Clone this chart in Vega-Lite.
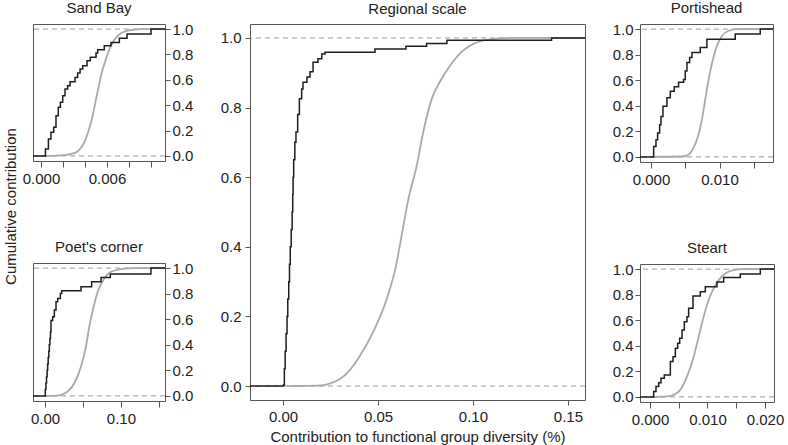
{
  "$schema": "https://vega.github.io/schema/vega-lite/v6.json",
  "padding": {"left": 3, "top": 0, "right": 0, "bottom": 0},
  "config": {
    "font": "Liberation Sans",
    "view": {"stroke": "#555", "strokeWidth": 1},
    "axis": {"grid": false, "domain": false, "ticks": true, "tickColor": "#555", "tickSize": 6, "tickCount": 30, "labelFontSize": 15, "labelColor": "#222", "labelFont": "Liberation Sans", "titleFontSize": 15, "titleFontWeight": "normal", "titleColor": "#222", "titleFont": "Liberation Sans", "labelOverlap": false, "labelFlush": false, "labelPadding": 3},
    "title": {"fontSize": 15, "fontWeight": "normal", "color": "#222", "font": "Liberation Sans", "offset": 9, "baseline": "alphabetic"}
  },
  "data": {"values": [
    {"p":"Sand Bay","s":"obs","x":-0.00073,"y":0},{"p":"Sand Bay","s":"obs","x":0.0004,"y":0.055},{"p":"Sand Bay","s":"obs","x":0.00067,"y":0.134},{"p":"Sand Bay","s":"obs","x":0.0009,"y":0.187},{"p":"Sand Bay","s":"obs","x":0.00115,"y":0.226},{"p":"Sand Bay","s":"obs","x":0.00136,"y":0.317},{"p":"Sand Bay","s":"obs","x":0.00157,"y":0.383},{"p":"Sand Bay","s":"obs","x":0.00176,"y":0.423},{"p":"Sand Bay","s":"obs","x":0.00197,"y":0.475},{"p":"Sand Bay","s":"obs","x":0.00218,"y":0.528},{"p":"Sand Bay","s":"obs","x":0.00242,"y":0.554},{"p":"Sand Bay","s":"obs","x":0.00264,"y":0.585},{"p":"Sand Bay","s":"obs","x":0.00309,"y":0.619},{"p":"Sand Bay","s":"obs","x":0.00333,"y":0.654},{"p":"Sand Bay","s":"obs","x":0.00355,"y":0.685},{"p":"Sand Bay","s":"obs","x":0.00379,"y":0.711},{"p":"Sand Bay","s":"obs","x":0.00418,"y":0.751},{"p":"Sand Bay","s":"obs","x":0.00448,"y":0.777},{"p":"Sand Bay","s":"obs","x":0.005,"y":0.811},{"p":"Sand Bay","s":"obs","x":0.00515,"y":0.837},{"p":"Sand Bay","s":"obs","x":0.00575,"y":0.869},{"p":"Sand Bay","s":"obs","x":0.00636,"y":0.895},{"p":"Sand Bay","s":"obs","x":0.00712,"y":0.927},{"p":"Sand Bay","s":"obs","x":0.00782,"y":0.961},{"p":"Sand Bay","s":"obs","x":0.01,"y":1.0},{"p":"Sand Bay","s":"obs","x":0.01145,"y":1.0},
    {"p":"Sand Bay","s":"exp","x":0,"y":0},{"p":"Sand Bay","s":"exp","x":0.0015,"y":0.002},{"p":"Sand Bay","s":"exp","x":0.0021,"y":0.006},{"p":"Sand Bay","s":"exp","x":0.0027,"y":0.015},{"p":"Sand Bay","s":"exp","x":0.0032,"y":0.029},{"p":"Sand Bay","s":"exp","x":0.0036,"y":0.06},{"p":"Sand Bay","s":"exp","x":0.00394,"y":0.108},{"p":"Sand Bay","s":"exp","x":0.00425,"y":0.18},{"p":"Sand Bay","s":"exp","x":0.00455,"y":0.265},{"p":"Sand Bay","s":"exp","x":0.0048,"y":0.36},{"p":"Sand Bay","s":"exp","x":0.005,"y":0.449},{"p":"Sand Bay","s":"exp","x":0.00523,"y":0.54},{"p":"Sand Bay","s":"exp","x":0.00545,"y":0.632},{"p":"Sand Bay","s":"exp","x":0.0059,"y":0.764},{"p":"Sand Bay","s":"exp","x":0.00636,"y":0.869},{"p":"Sand Bay","s":"exp","x":0.00697,"y":0.947},{"p":"Sand Bay","s":"exp","x":0.00788,"y":0.987},{"p":"Sand Bay","s":"exp","x":0.00909,"y":1.0},{"p":"Sand Bay","s":"exp","x":0.01145,"y":1.0},
    {"p":"Poet's corner","s":"obs","x":-0.0158,"y":0},{"p":"Poet's corner","s":"obs","x":0.0004,"y":0.05},{"p":"Poet's corner","s":"obs","x":0.0012,"y":0.1},{"p":"Poet's corner","s":"obs","x":0.002,"y":0.15},{"p":"Poet's corner","s":"obs","x":0.0028,"y":0.2},{"p":"Poet's corner","s":"obs","x":0.0035,"y":0.25},{"p":"Poet's corner","s":"obs","x":0.0042,"y":0.3},{"p":"Poet's corner","s":"obs","x":0.005,"y":0.35},{"p":"Poet's corner","s":"obs","x":0.0057,"y":0.4},{"p":"Poet's corner","s":"obs","x":0.0065,"y":0.45},{"p":"Poet's corner","s":"obs","x":0.0072,"y":0.5},{"p":"Poet's corner","s":"obs","x":0.0079,"y":0.59},{"p":"Poet's corner","s":"obs","x":0.0101,"y":0.62},{"p":"Poet's corner","s":"obs","x":0.0123,"y":0.672},{"p":"Poet's corner","s":"obs","x":0.0145,"y":0.737},{"p":"Poet's corner","s":"obs","x":0.0167,"y":0.763},{"p":"Poet's corner","s":"obs","x":0.0202,"y":0.802},{"p":"Poet's corner","s":"obs","x":0.0219,"y":0.823},{"p":"Poet's corner","s":"obs","x":0.0474,"y":0.854},{"p":"Poet's corner","s":"obs","x":0.0614,"y":0.893},{"p":"Poet's corner","s":"obs","x":0.0737,"y":0.927},{"p":"Poet's corner","s":"obs","x":0.086,"y":0.953},{"p":"Poet's corner","s":"obs","x":0.1395,"y":1.0},{"p":"Poet's corner","s":"obs","x":0.158,"y":1.0},
    {"p":"Poet's corner","s":"exp","x":0,"y":0},{"p":"Poet's corner","s":"exp","x":0.015,"y":0.002},{"p":"Poet's corner","s":"exp","x":0.022,"y":0.01},{"p":"Poet's corner","s":"exp","x":0.0298,"y":0.034},{"p":"Poet's corner","s":"exp","x":0.0386,"y":0.099},{"p":"Poet's corner","s":"exp","x":0.0474,"y":0.229},{"p":"Poet's corner","s":"exp","x":0.0539,"y":0.385},{"p":"Poet's corner","s":"exp","x":0.0583,"y":0.542},{"p":"Poet's corner","s":"exp","x":0.064,"y":0.698},{"p":"Poet's corner","s":"exp","x":0.0702,"y":0.828},{"p":"Poet's corner","s":"exp","x":0.078,"y":0.919},{"p":"Poet's corner","s":"exp","x":0.0868,"y":0.971},{"p":"Poet's corner","s":"exp","x":0.1,"y":0.992},{"p":"Poet's corner","s":"exp","x":0.117,"y":1.0},{"p":"Poet's corner","s":"exp","x":0.158,"y":1.0},
    {"p":"Portishead","s":"obs","x":-0.0016,"y":0},{"p":"Portishead","s":"obs","x":0.00039,"y":0.081},{"p":"Portishead","s":"obs","x":0.00073,"y":0.134},{"p":"Portishead","s":"obs","x":0.00097,"y":0.186},{"p":"Portishead","s":"obs","x":0.00126,"y":0.252},{"p":"Portishead","s":"obs","x":0.00146,"y":0.317},{"p":"Portishead","s":"obs","x":0.00175,"y":0.396},{"p":"Portishead","s":"obs","x":0.00233,"y":0.462},{"p":"Portishead","s":"obs","x":0.00282,"y":0.514},{"p":"Portishead","s":"obs","x":0.0034,"y":0.549},{"p":"Portishead","s":"obs","x":0.00403,"y":0.585},{"p":"Portishead","s":"obs","x":0.00476,"y":0.606},{"p":"Portishead","s":"obs","x":0.005,"y":0.672},{"p":"Portishead","s":"obs","x":0.00525,"y":0.738},{"p":"Portishead","s":"obs","x":0.00564,"y":0.777},{"p":"Portishead","s":"obs","x":0.00598,"y":0.816},{"p":"Portishead","s":"obs","x":0.00719,"y":0.856},{"p":"Portishead","s":"obs","x":0.00816,"y":0.921},{"p":"Portishead","s":"obs","x":0.01229,"y":0.961},{"p":"Portishead","s":"obs","x":0.01594,"y":1.0},{"p":"Portishead","s":"obs","x":0.0178,"y":1.0},
    {"p":"Portishead","s":"exp","x":0,"y":0},{"p":"Portishead","s":"exp","x":0.0045,"y":0.003},{"p":"Portishead","s":"exp","x":0.0052,"y":0.01},{"p":"Portishead","s":"exp","x":0.00573,"y":0.029},{"p":"Portishead","s":"exp","x":0.0062,"y":0.07},{"p":"Portishead","s":"exp","x":0.0067,"y":0.134},{"p":"Portishead","s":"exp","x":0.00743,"y":0.291},{"p":"Portishead","s":"exp","x":0.00792,"y":0.449},{"p":"Portishead","s":"exp","x":0.00841,"y":0.606},{"p":"Portishead","s":"exp","x":0.00904,"y":0.764},{"p":"Portishead","s":"exp","x":0.00962,"y":0.869},{"p":"Portishead","s":"exp","x":0.01035,"y":0.947},{"p":"Portishead","s":"exp","x":0.01133,"y":0.987},{"p":"Portishead","s":"exp","x":0.01254,"y":1.0},{"p":"Portishead","s":"exp","x":0.0178,"y":1.0},
    {"p":"Steart","s":"obs","x":-0.00174,"y":0},{"p":"Steart","s":"obs","x":0.00064,"y":0.042},{"p":"Steart","s":"obs","x":0.00104,"y":0.081},{"p":"Steart","s":"obs","x":0.00151,"y":0.11},{"p":"Steart","s":"obs","x":0.00191,"y":0.146},{"p":"Steart","s":"obs","x":0.00249,"y":0.172},{"p":"Steart","s":"obs","x":0.00354,"y":0.276},{"p":"Steart","s":"obs","x":0.004,"y":0.315},{"p":"Steart","s":"obs","x":0.00441,"y":0.38},{"p":"Steart","s":"obs","x":0.00481,"y":0.419},{"p":"Steart","s":"obs","x":0.00516,"y":0.458},{"p":"Steart","s":"obs","x":0.00557,"y":0.523},{"p":"Steart","s":"obs","x":0.00597,"y":0.588},{"p":"Steart","s":"obs","x":0.00643,"y":0.627},{"p":"Steart","s":"obs","x":0.00672,"y":0.693},{"p":"Steart","s":"obs","x":0.00748,"y":0.789},{"p":"Steart","s":"obs","x":0.00875,"y":0.823},{"p":"Steart","s":"obs","x":0.00962,"y":0.862},{"p":"Steart","s":"obs","x":0.01165,"y":0.9},{"p":"Steart","s":"obs","x":0.01281,"y":0.935},{"p":"Steart","s":"obs","x":0.01571,"y":0.961},{"p":"Steart","s":"obs","x":0.01919,"y":1.0},{"p":"Steart","s":"obs","x":0.02157,"y":1.0},
    {"p":"Steart","s":"exp","x":0,"y":0},{"p":"Steart","s":"exp","x":0.003,"y":0.004},{"p":"Steart","s":"exp","x":0.00412,"y":0.016},{"p":"Steart","s":"exp","x":0.00528,"y":0.055},{"p":"Steart","s":"exp","x":0.00643,"y":0.159},{"p":"Steart","s":"exp","x":0.0076,"y":0.315},{"p":"Steart","s":"exp","x":0.00846,"y":0.471},{"p":"Steart","s":"exp","x":0.00933,"y":0.627},{"p":"Steart","s":"exp","x":0.0102,"y":0.758},{"p":"Steart","s":"exp","x":0.01107,"y":0.849},{"p":"Steart","s":"exp","x":0.01194,"y":0.914},{"p":"Steart","s":"exp","x":0.0131,"y":0.966},{"p":"Steart","s":"exp","x":0.01455,"y":0.992},{"p":"Steart","s":"exp","x":0.01629,"y":1.0},{"p":"Steart","s":"exp","x":0.02157,"y":1.0},
    {"p":"Regional scale","s":"obs","x":-0.0174,"y":0},{"p":"Regional scale","s":"obs","x":0.0002,"y":0.003},{"p":"Regional scale","s":"obs","x":0.0007,"y":0.05},{"p":"Regional scale","s":"obs","x":0.0011,"y":0.1},{"p":"Regional scale","s":"obs","x":0.0016,"y":0.15},{"p":"Regional scale","s":"obs","x":0.0021,"y":0.2},{"p":"Regional scale","s":"obs","x":0.0025,"y":0.25},{"p":"Regional scale","s":"obs","x":0.003,"y":0.3},{"p":"Regional scale","s":"obs","x":0.0034,"y":0.35},{"p":"Regional scale","s":"obs","x":0.0038,"y":0.4},{"p":"Regional scale","s":"obs","x":0.0043,"y":0.45},{"p":"Regional scale","s":"obs","x":0.0048,"y":0.5},{"p":"Regional scale","s":"obs","x":0.0051,"y":0.55},{"p":"Regional scale","s":"obs","x":0.0053,"y":0.6},{"p":"Regional scale","s":"obs","x":0.0056,"y":0.65},{"p":"Regional scale","s":"obs","x":0.0062,"y":0.7},{"p":"Regional scale","s":"obs","x":0.0068,"y":0.73},{"p":"Regional scale","s":"obs","x":0.0077,"y":0.78},{"p":"Regional scale","s":"obs","x":0.0086,"y":0.825},{"p":"Regional scale","s":"obs","x":0.0098,"y":0.853},{"p":"Regional scale","s":"obs","x":0.0105,"y":0.873},{"p":"Regional scale","s":"obs","x":0.0126,"y":0.888},{"p":"Regional scale","s":"obs","x":0.0142,"y":0.903},{"p":"Regional scale","s":"obs","x":0.0158,"y":0.93},{"p":"Regional scale","s":"obs","x":0.0184,"y":0.94},{"p":"Regional scale","s":"obs","x":0.0204,"y":0.954},{"p":"Regional scale","s":"obs","x":0.0221,"y":0.959},{"p":"Regional scale","s":"obs","x":0.0484,"y":0.968},{"p":"Regional scale","s":"obs","x":0.0647,"y":0.976},{"p":"Regional scale","s":"obs","x":0.0756,"y":0.984},{"p":"Regional scale","s":"obs","x":0.0863,"y":0.993},{"p":"Regional scale","s":"obs","x":0.1414,"y":1.0},{"p":"Regional scale","s":"obs","x":0.159,"y":1.0},
    {"p":"Regional scale","s":"exp","x":0.002,"y":0},{"p":"Regional scale","s":"exp","x":0.01,"y":0.0005},{"p":"Regional scale","s":"exp","x":0.02,"y":0.002},{"p":"Regional scale","s":"exp","x":0.025,"y":0.008},{"p":"Regional scale","s":"exp","x":0.03,"y":0.02},{"p":"Regional scale","s":"exp","x":0.035,"y":0.045},{"p":"Regional scale","s":"exp","x":0.0405,"y":0.087},{"p":"Regional scale","s":"exp","x":0.0474,"y":0.155},{"p":"Regional scale","s":"exp","x":0.0546,"y":0.25},{"p":"Regional scale","s":"exp","x":0.0595,"y":0.346},{"p":"Regional scale","s":"exp","x":0.0628,"y":0.443},{"p":"Regional scale","s":"exp","x":0.066,"y":0.537},{"p":"Regional scale","s":"exp","x":0.0704,"y":0.633},{"p":"Regional scale","s":"exp","x":0.0738,"y":0.729},{"p":"Regional scale","s":"exp","x":0.0783,"y":0.825},{"p":"Regional scale","s":"exp","x":0.0826,"y":0.874},{"p":"Regional scale","s":"exp","x":0.0879,"y":0.92},{"p":"Regional scale","s":"exp","x":0.094,"y":0.96},{"p":"Regional scale","s":"exp","x":0.1002,"y":0.983},{"p":"Regional scale","s":"exp","x":0.109,"y":0.996},{"p":"Regional scale","s":"exp","x":0.12,"y":1.0},{"p":"Regional scale","s":"exp","x":0.159,"y":1.0}
  ]},
  "title": {"text": "Cumulative contribution", "orient": "left", "anchor": "middle", "offset": -9, "dx": 16, "baseline": "alphabetic"},
  "spacing": 25,
  "hconcat": [
    {
      "spacing": 52,
      "vconcat": [
        {
          "width": 132, "height": 137, "title": {"text": "Sand Bay", "offset": 6},
          "layer": [
            {"data": {"values": [{"ref": 0}, {"ref": 1}]}, "mark": {"type": "rule", "color": "#9a9a9a", "strokeDash": [5, 4], "strokeWidth": 1},
             "encoding": {"y": {"field": "ref", "type": "quantitative", "scale": {"domain": [-0.04, 1.04], "nice": false, "zero": false}, "axis": {"orient": "right", "values": [0, 0.2, 0.4, 0.6, 0.8, 1], "tickCount": 30, "format": ".1f", "title": null, "tickSize": 5, "labelPadding": 2, "labelOverlap": false}}}},
            {"transform": [{"filter": "datum.p === 'Sand Bay' && datum.s === 'exp'"}], "mark": {"type": "line", "color": "#a9a9a9", "strokeWidth": 1.8, "interpolate": "monotone", "clip": true},
             "encoding": {"x": {"field": "x", "type": "quantitative", "scale": {"domain": [-0.00073, 0.01127], "nice": false, "zero": false}, "axis": {"values": [0, 0.002, 0.004, 0.006, 0.008, 0.01], "tickCount": 30, "labelExpr": "abs(datum.value) < 1e-9 || abs(datum.value - 0.006) < 1e-9 ? format(datum.value, '.3f') : ''", "title": null, "labelPadding": 4, "labelOverlap": false}},
                          "y": {"field": "y", "type": "quantitative", "scale": {"domain": [-0.04, 1.04], "nice": false, "zero": false}}}},
            {"transform": [{"filter": "datum.p === 'Sand Bay' && datum.s === 'obs'"}], "mark": {"type": "line", "color": "#1e1e1e", "strokeWidth": 1.5, "interpolate": "step-after", "clip": true},
             "encoding": {"x": {"field": "x", "type": "quantitative"}, "y": {"field": "y", "type": "quantitative"}}}
          ]
        },
        {
          "width": 132, "height": 138, "title": {"text": "Poet's corner", "offset": 6},
          "layer": [
            {"data": {"values": [{"ref": 0}, {"ref": 1}]}, "mark": {"type": "rule", "color": "#9a9a9a", "strokeDash": [5, 4], "strokeWidth": 1},
             "encoding": {"y": {"field": "ref", "type": "quantitative", "scale": {"domain": [-0.04, 1.04], "nice": false, "zero": false}, "axis": {"orient": "right", "values": [0, 0.2, 0.4, 0.6, 0.8, 1], "tickCount": 30, "format": ".1f", "title": null, "tickSize": 5, "labelPadding": 2, "labelOverlap": false}}}},
            {"transform": [{"filter": "datum.p === \"Poet's corner\" && datum.s === 'exp'"}], "mark": {"type": "line", "color": "#a9a9a9", "strokeWidth": 1.8, "interpolate": "monotone", "clip": true},
             "encoding": {"x": {"field": "x", "type": "quantitative", "scale": {"domain": [-0.0158, 0.158], "nice": false, "zero": false}, "axis": {"values": [0, 0.05, 0.1, 0.15], "tickCount": 30, "labelExpr": "abs(datum.value) < 1e-9 || abs(datum.value - 0.1) < 1e-9 ? format(datum.value, '.2f') : ''", "title": null, "labelPadding": 4, "labelOverlap": false}},
                          "y": {"field": "y", "type": "quantitative", "scale": {"domain": [-0.04, 1.04], "nice": false, "zero": false}}}},
            {"transform": [{"filter": "datum.p === \"Poet's corner\" && datum.s === 'obs'"}], "mark": {"type": "line", "color": "#1e1e1e", "strokeWidth": 1.5, "interpolate": "step-after", "clip": true},
             "encoding": {"x": {"field": "x", "type": "quantitative"}, "y": {"field": "y", "type": "quantitative"}}}
          ]
        }
      ]
    },
    {
      "width": 335, "height": 376, "title": {"text": "Regional scale", "offset": 7},
      "layer": [
        {"data": {"values": [{"ref": 0}, {"ref": 1}]}, "mark": {"type": "rule", "color": "#9a9a9a", "strokeDash": [5, 4], "strokeWidth": 1},
         "encoding": {"y": {"field": "ref", "type": "quantitative", "scale": {"domain": [-0.04, 1.04], "nice": false, "zero": false}, "axis": {"orient": "left", "values": [0, 0.2, 0.4, 0.6, 0.8, 1], "tickCount": 30, "format": ".1f", "title": null, "tickSize": 5, "labelPadding": 4, "labelOverlap": false}}}},
        {"transform": [{"filter": "datum.p === 'Regional scale' && datum.s === 'exp'"}], "mark": {"type": "line", "color": "#a9a9a9", "strokeWidth": 1.8, "interpolate": "monotone", "clip": true},
         "encoding": {"x": {"field": "x", "type": "quantitative", "scale": {"domain": [-0.0174, 0.159], "nice": false, "zero": false}, "axis": {"values": [0, 0.05, 0.1, 0.15], "tickCount": 30, "format": ".2f", "title": "Contribution to functional group diversity (%)", "titlePadding": 5, "labelPadding": 4, "tickSize": 5, "labelOverlap": false}},
                      "y": {"field": "y", "type": "quantitative", "scale": {"domain": [-0.04, 1.04], "nice": false, "zero": false}}}},
        {"transform": [{"filter": "datum.p === 'Regional scale' && datum.s === 'obs'"}], "mark": {"type": "line", "color": "#1e1e1e", "strokeWidth": 1.5, "interpolate": "step-after", "clip": true},
         "encoding": {"x": {"field": "x", "type": "quantitative"}, "y": {"field": "y", "type": "quantitative"}}}
      ]
    },
    {
      "spacing": 52,
      "vconcat": [
        {
          "width": 133, "height": 138, "title": {"text": "Portishead", "offset": 6},
          "layer": [
            {"data": {"values": [{"ref": 0}, {"ref": 1}]}, "mark": {"type": "rule", "color": "#9a9a9a", "strokeDash": [5, 4], "strokeWidth": 1},
             "encoding": {"y": {"field": "ref", "type": "quantitative", "scale": {"domain": [-0.04, 1.04], "nice": false, "zero": false}, "axis": {"orient": "left", "values": [0, 0.2, 0.4, 0.6, 0.8, 1], "tickCount": 30, "format": ".1f", "title": null, "tickSize": 5, "labelPadding": 2, "labelOverlap": false}}}},
            {"transform": [{"filter": "datum.p === 'Portishead' && datum.s === 'exp'"}], "mark": {"type": "line", "color": "#a9a9a9", "strokeWidth": 1.8, "interpolate": "monotone", "clip": true},
             "encoding": {"x": {"field": "x", "type": "quantitative", "scale": {"domain": [-0.0016, 0.0178], "nice": false, "zero": false}, "axis": {"values": [0, 0.005, 0.01, 0.015], "tickCount": 30, "labelExpr": "abs(datum.value) < 1e-9 || abs(datum.value - 0.01) < 1e-9 ? format(datum.value, '.3f') : ''", "title": null, "labelPadding": 4, "labelOverlap": false}},
                          "y": {"field": "y", "type": "quantitative", "scale": {"domain": [-0.04, 1.04], "nice": false, "zero": false}}}},
            {"transform": [{"filter": "datum.p === 'Portishead' && datum.s === 'obs'"}], "mark": {"type": "line", "color": "#1e1e1e", "strokeWidth": 1.5, "interpolate": "step-after", "clip": true},
             "encoding": {"x": {"field": "x", "type": "quantitative"}, "y": {"field": "y", "type": "quantitative"}}}
          ]
        },
        {
          "width": 134, "height": 138, "title": {"text": "Steart", "offset": 6},
          "layer": [
            {"data": {"values": [{"ref": 0}, {"ref": 1}]}, "mark": {"type": "rule", "color": "#9a9a9a", "strokeDash": [5, 4], "strokeWidth": 1},
             "encoding": {"y": {"field": "ref", "type": "quantitative", "scale": {"domain": [-0.04, 1.04], "nice": false, "zero": false}, "axis": {"orient": "left", "values": [0, 0.2, 0.4, 0.6, 0.8, 1], "tickCount": 30, "format": ".1f", "title": null, "tickSize": 5, "labelPadding": 2, "labelOverlap": false}}}},
            {"transform": [{"filter": "datum.p === 'Steart' && datum.s === 'exp'"}], "mark": {"type": "line", "color": "#a9a9a9", "strokeWidth": 1.8, "interpolate": "monotone", "clip": true},
             "encoding": {"x": {"field": "x", "type": "quantitative", "scale": {"domain": [-0.00174, 0.02157], "nice": false, "zero": false}, "axis": {"values": [0, 0.005, 0.01, 0.015, 0.02], "tickCount": 30, "labelExpr": "abs(datum.value) < 1e-9 || abs(datum.value - 0.01) < 1e-9 || abs(datum.value - 0.02) < 1e-9 ? format(datum.value, '.3f') : ''", "title": null, "labelPadding": 4, "labelOverlap": false}},
                          "y": {"field": "y", "type": "quantitative", "scale": {"domain": [-0.04, 1.04], "nice": false, "zero": false}}}},
            {"transform": [{"filter": "datum.p === 'Steart' && datum.s === 'obs'"}], "mark": {"type": "line", "color": "#1e1e1e", "strokeWidth": 1.5, "interpolate": "step-after", "clip": true},
             "encoding": {"x": {"field": "x", "type": "quantitative"}, "y": {"field": "y", "type": "quantitative"}}}
          ]
        }
      ]
    }
  ]
}
